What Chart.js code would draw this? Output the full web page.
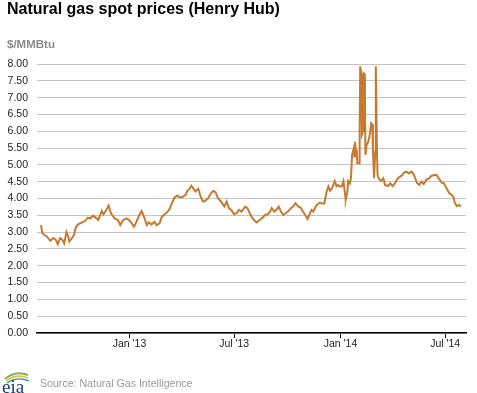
<!DOCTYPE html>
<html>
<head>
<meta charset="utf-8">
<script src="https://cdn.jsdelivr.net/npm/chart.js@4.4.1/dist/chart.umd.min.js"></script>
<style>
  html, body { margin: 0; padding: 0; background: #fff; }
  #wrap { position: relative; width: 477px; height: 393px; overflow: hidden; font-family: "Liberation Sans", Arial, sans-serif; }
  #c { position: absolute; left: 0; top: 0; }
  #title { position: absolute; left: 7px; top: 1px; font-size: 16px; font-weight: bold; color: #000; line-height: 16px; white-space: nowrap; }
  #unit { position: absolute; left: 7px; top: 38px; font-size: 11.5px; font-weight: bold; color: #8c8c8c; line-height: 12px; white-space: nowrap; }
  #source { position: absolute; left: 40px; top: 378px; font-size: 10.6px; color: #999; line-height: 11px; white-space: nowrap; }
  #logo { position: absolute; left: 1px; top: 369px; }
</style>
</head>
<body>
<div id="wrap">
  <canvas id="c" width="477" height="393"></canvas>
  <div id="title">Natural gas spot prices (Henry Hub)</div>
  <div id="unit">$/MMBtu</div>
  <svg id="logo" width="32" height="24" viewBox="0 0 32 24">
    <path d="M4 10 Q14 1 27 6" stroke="#7ab648" stroke-width="2" fill="none"/>
    <path d="M5 12 Q15 4 27 9" stroke="#f2c12e" stroke-width="1.6" fill="none"/>
    <path d="M6 14 Q16 7 28 12" stroke="#2a8fd0" stroke-width="1.4" fill="none"/>
    <text x="1" y="23.5" font-family="Liberation Serif, serif" font-size="19" fill="#1d3f73">eia</text>
  </svg>
  <div id="source">Source: Natural Gas Intelligence</div>
</div>
<script>
// ---- data ----
const dates = [
  "2012-08-01","2012-08-03","2012-08-06","2012-08-11","2012-08-17","2012-08-22","2012-08-26","2012-08-30",
  "2012-09-03","2012-09-07","2012-09-10","2012-09-14","2012-09-17","2012-09-19","2012-09-24","2012-09-27","2012-09-30",
  "2012-10-04","2012-10-10","2012-10-16","2012-10-21","2012-10-25","2012-10-30",
  "2012-11-05","2012-11-08","2012-11-14","2012-11-17","2012-11-22","2012-11-26","2012-11-30",
  "2012-12-06","2012-12-12","2012-12-16","2012-12-21","2012-12-27","2012-12-31",
  "2013-01-05","2013-01-09","2013-01-13","2013-01-18","2013-01-22","2013-01-26","2013-01-31",
  "2013-02-03","2013-02-08","2013-02-13","2013-02-17","2013-02-22","2013-02-26",
  "2013-03-03","2013-03-08","2013-03-12","2013-03-16","2013-03-20","2013-03-25","2013-03-29",
  "2013-04-04","2013-04-08","2013-04-11","2013-04-15","2013-04-18","2013-04-21","2013-04-25","2013-04-30",
  "2013-05-04","2013-05-08","2013-05-12","2013-05-17","2013-05-22","2013-05-26","2013-05-30",
  "2013-06-03","2013-06-09","2013-06-14","2013-06-18","2013-06-22","2013-06-26",
  "2013-07-01","2013-07-05","2013-07-09","2013-07-14","2013-07-20","2013-07-24","2013-07-28",
  "2013-08-01","2013-08-06","2013-08-09","2013-08-14","2013-08-18","2013-08-23","2013-08-28",
  "2013-09-01","2013-09-04","2013-09-08","2013-09-12","2013-09-16","2013-09-20","2013-09-24","2013-09-28",
  "2013-10-02","2013-10-07","2013-10-11","2013-10-15","2013-10-20","2013-10-24","2013-10-28",
  "2013-11-01","2013-11-05","2013-11-09","2013-11-12","2013-11-15","2013-11-19","2013-11-23","2013-11-26","2013-11-30",
  "2013-12-04","2013-12-08","2013-12-11","2013-12-14","2013-12-17","2013-12-19","2013-12-22","2013-12-25","2013-12-28","2013-12-31",
  "2014-01-03","2014-01-06","2014-01-09","2014-01-10","2014-01-13","2014-01-14","2014-01-17","2014-01-19",
  "2014-01-21","2014-01-24","2014-01-25","2014-01-26","2014-01-28","2014-01-29","2014-01-30",
  "2014-02-02","2014-02-03","2014-02-04","2014-02-06","2014-02-07","2014-02-09","2014-02-10","2014-02-12",
  "2014-02-13","2014-02-15","2014-02-18","2014-02-21","2014-02-23","2014-02-25","2014-02-26","2014-02-28",
  "2014-03-02","2014-03-03","2014-03-05","2014-03-06","2014-03-08","2014-03-12","2014-03-16","2014-03-19",
  "2014-03-24","2014-03-28","2014-04-01","2014-04-05","2014-04-10","2014-04-14","2014-04-18","2014-04-21",
  "2014-04-25","2014-04-29","2014-05-04","2014-05-08","2014-05-13","2014-05-17","2014-05-21","2014-05-25",
  "2014-05-30","2014-06-03","2014-06-07","2014-06-12","2014-06-16","2014-06-20","2014-06-25","2014-06-29",
  "2014-07-04","2014-07-08","2014-07-12","2014-07-15","2014-07-18","2014-07-21","2014-07-25","2014-07-28"
];
const prices = [
  3.21,2.97,2.92,2.87,2.74,2.82,2.79,2.64,
  2.82,2.77,2.67,3.00,2.87,2.72,2.84,2.92,3.13,
  3.23,3.28,3.33,3.43,3.41,3.49,
  3.41,3.36,3.63,3.53,3.66,3.79,3.56,
  3.41,3.36,3.21,3.36,3.41,3.36,
  3.26,3.16,3.31,3.51,3.63,3.46,3.21,
  3.29,3.23,3.31,3.21,3.26,3.46,
  3.53,3.61,3.71,3.89,4.03,4.09,4.03,
  4.06,4.11,4.23,4.29,4.38,4.31,4.21,4.29,
  4.06,3.91,3.93,4.01,4.16,4.23,4.18,
  4.01,3.89,3.76,3.91,3.71,3.66,
  3.53,3.56,3.66,3.61,3.76,3.71,3.56,
  3.43,3.33,3.29,3.36,3.41,3.51,3.53,
  3.61,3.71,3.61,3.66,3.76,3.61,3.51,3.56,
  3.61,3.71,3.76,3.86,3.76,3.73,3.61,
  3.51,3.39,3.56,3.66,3.61,3.76,3.84,3.88,3.85,
  3.85,4.21,4.36,4.23,4.30,4.38,4.52,4.36,4.40,4.36,
  4.36,4.52,4.11,3.96,4.21,4.52,4.45,4.60,
  5.30,5.50,5.25,5.69,5.30,5.45,5.05,
  5.05,5.89,7.93,7.70,5.90,6.00,7.73,7.70,
  5.30,5.60,5.69,5.94,6.24,6.20,5.40,4.60,
  5.40,7.93,5.40,4.70,4.60,4.52,4.60,4.40,
  4.37,4.45,4.37,4.45,4.60,4.65,4.70,4.77,
  4.80,4.75,4.80,4.70,4.47,4.40,4.50,4.43,
  4.57,4.60,4.67,4.70,4.70,4.60,4.47,4.45,
  4.28,4.16,4.11,4.06,3.86,3.78,3.81,3.76
];
const tickDates = ["2013-01-01","2013-07-01","2014-01-01","2014-07-01"];
const tickLabels = ["Jan '13","Jul '13","Jan '14","Jul '14"];
const axisStart = "2012-07-25";
const axisEnd = "2014-08-06";

function toDay(s) {
  const p = s.split("-").map(Number);
  return Date.UTC(p[0], p[1] - 1, p[2]) / 86400000;
}

const points = dates.map((d, i) => ({ x: toDay(d), y: prices[i] }));
const tickValues = tickDates.map(toDay);

Chart.defaults.font.family = '"Liberation Sans", Arial, sans-serif';

new Chart(document.getElementById("c"), {
  type: "line",
  data: {
    datasets: [{
      data: points,
      borderColor: "#c47b2f",
      borderWidth: 2,
      pointRadius: 0,
      tension: 0,
      fill: false
    }]
  },
  options: {
    responsive: false,
    animation: false,
    devicePixelRatio: 1,
    layout: { padding: { top: 64, left: 0, right: 11, bottom: 0 } },
    plugins: { legend: { display: false }, tooltip: { enabled: false }, title: { display: false } },
    scales: {
      x: {
        type: "linear",
        min: toDay(axisStart),
        max: toDay(axisEnd),
        afterBuildTicks: (scale) => { scale.ticks = tickValues.map(v => ({ value: v })); },
        afterFit: (scale) => { scale.height = 60; },
        ticks: {
          autoSkip: false,
          maxRotation: 0,
          padding: 0,
          color: "#222",
          font: { size: 10.5 },
          callback: (v) => { const i = tickValues.indexOf(v); return i >= 0 ? tickLabels[i] : ""; }
        },
        grid: { drawOnChartArea: false, drawTicks: true, tickLength: 5, color: "#000", lineWidth: 1 },
        border: { display: true, color: "#000", width: 1.5 }
      },
      y: {
        min: 0,
        max: 8,
        afterFit: (scale) => { scale.width = 37; },
        ticks: {
          stepSize: 0.5,
          padding: 9,
          color: "#222",
          font: { size: 10.5 },
          callback: (v) => Number(v).toFixed(2)
        },
        grid: { color: "#c4c4c4", lineWidth: 1, drawTicks: false },
        border: { display: false }
      }
    }
  }
});
</script>
</body>
</html>
